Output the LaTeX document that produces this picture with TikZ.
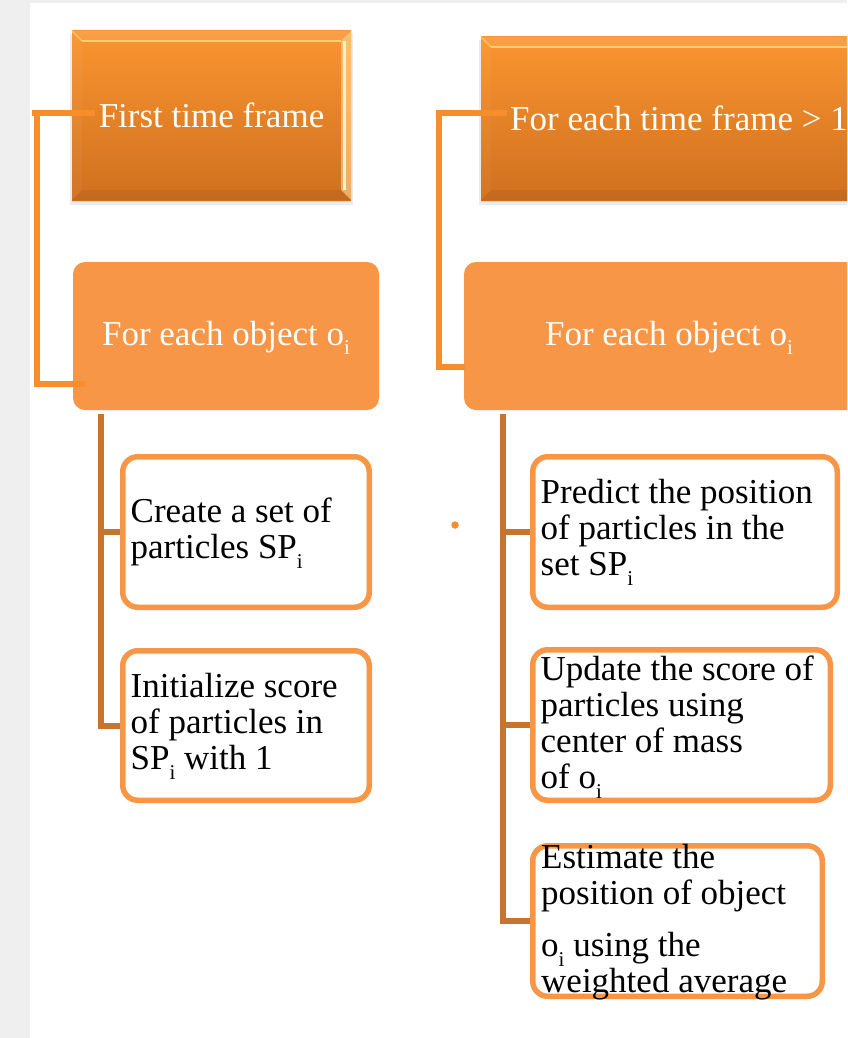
\documentclass[tikz,border=0pt]{standalone}
\usepackage{fontspec}
\setmainfont{Liberation Serif}
\usetikzlibrary{calc,shadows}
\definecolor{bggray}{HTML}{EFEFEF}
\definecolor{acc}{HTML}{F79646}
\definecolor{brk}{HTML}{F68E2B}
\definecolor{brn}{HTML}{C5752F}
\definecolor{topc}{HTML}{FA9530}
\definecolor{botc}{HTML}{D0701F}
\definecolor{bevright}{HTML}{FFE3A0}
\definecolor{hilite}{HTML}{FFD878}
\definecolor{hiliter}{HTML}{FFF2C8}
\newcommand\mysub[1]{\raisebox{-0.28em}{\fontsize{21}{21}\selectfont #1}}
\newcommand\mybevel[1]{%
  \path (#1.north west) coordinate (#1-a) (#1.north east) coordinate (#1-b)
        (#1.south east) coordinate (#1-c) (#1.south west) coordinate (#1-d)
        ([shift={(10,10)}]#1.north west) coordinate (#1-ia)
        ([shift={(-10,10)}]#1.north east) coordinate (#1-ib)
        ([shift={(-10,-10)}]#1.south east) coordinate (#1-ic)
        ([shift={(10,-10)}]#1.south west) coordinate (#1-id);
  \fill[white, opacity=.10] (#1-a) -- (#1-b) -- (#1-ib) -- (#1-ia) -- cycle;
  \fill[white, opacity=.04] (#1-a) -- (#1-ia) -- (#1-id) -- (#1-d) -- cycle;
  \fill[black, opacity=.06] (#1-d) -- (#1-id) -- (#1-ic) -- (#1-c) -- cycle;
  \fill[bevright, opacity=.55] (#1-b) -- (#1-c) -- (#1-ic) -- (#1-ib) -- cycle;
  \draw[hilite, line width=2.5pt, opacity=.9] (#1-ia) -- (#1-ib);
  \draw[hilite, line width=1.5pt, opacity=.6] (#1-a) -- (#1-ia);
  \draw[hiliter, line width=3pt] ([xshift=3.5pt]#1-ib) -- ([xshift=3.5pt]#1-ic);
}
\begin{document}
\begin{tikzpicture}[x=1pt,y=-1pt,
  every node/.style={font=\fontsize{35}{36}\selectfont},
  topbox/.style={rectangle, top color=topc, bottom color=botc, text=white, inner sep=0pt,
     general shadow={fill=black, opacity=.08, shadow yshift=-4pt, shadow scale=1.012},
     general shadow={fill=black, opacity=.10, shadow yshift=-2pt}},
  objbox/.style={rectangle, rounded corners=12pt, fill=acc, text=white, inner sep=0pt,
     text height=24pt, text depth=6pt},
  childbox/.style={rectangle, rounded corners=15pt, draw=acc, line width=5.5pt, fill=white,
     inner sep=0pt},
  childtext/.style={align=left, inner sep=0pt, text=black},
  bracket/.style={draw=brk, line width=6pt},
  branch/.style={draw=brn, line width=6pt},
  dotmark/.style={circle, fill=brk, inner sep=0pt, minimum size=7.5pt}]
\clip (0,0) rectangle (847,1038);
\fill[white] (0,0) rectangle (847,1038);
\fill[bggray] (0,0) rectangle (30,1038);
\fill[bggray] (0,0) rectangle (847,3);

% top level boxes
\node (tf1) [topbox, minimum width=279pt, minimum height=169pt] at (211.5,115.5) {First time frame};
\mybevel{tf1}
\node (tf2) [topbox, minimum width=396pt, minimum height=163pt] at (679,118.5) {For each time frame > 1};
\mybevel{tf2}

% object boxes
\node (ob1) [objbox, minimum width=306pt, minimum height=148pt] at (226,336) {For each object o\mysub{i}};
\node (ob2) [objbox, minimum width=410pt, minimum height=148pt] at (669,336) {For each object o\mysub{i}};

% brackets
\draw[bracket] ($(tf1.west)+(23,-2.5)$) -- ++(-63,0);
\draw[bracket] ($(tf1.west)+(-35,-5.5)$) |- ($(ob1.west)+(12,48)$);
\draw[bracket] ($(tf2.west)+(26,-5)$) -- ++(-67.5,0) |- ($(ob2.west)+(1,31)$);

% child boxes
\node (c1) [childbox, minimum width=246.5pt, minimum height=150.5pt] at (246,532) {};
\node (c2) [childbox, minimum width=246.5pt, minimum height=149.5pt] at (246,725.5) {};
\node (r1) [childbox, minimum width=304.5pt, minimum height=150.5pt] at (685,532) {};
\node (r2) [childbox, minimum width=297.5pt, minimum height=150.5pt] at (681.5,725) {};
\node (r3) [childbox, minimum width=289.5pt, minimum height=150.5pt] at (677.5,921) {};

\node (c1t) [childtext, anchor=west] at ([xshift=10.5pt,yshift=-1pt]c1.west)
  {Create a set of\\particles SP\mysub{i}};
\node (c2t) [childtext, anchor=west] at ([xshift=10.5pt,yshift=-1pt]c2.west)
  {Initialize score\\of particles in\\SP\mysub{i} with 1};
\node (r1t) [childtext, anchor=west] at ([xshift=10.5pt]r1.west)
  {Predict the position\\of particles in the\\set SP\mysub{i}};
\node (r2t) [childtext, anchor=west] at ([xshift=10.5pt,yshift=-2pt]r2.west)
  {Update the score of\\particles using\\center of mass\\of o\mysub{i}};
\node (r3t) [childtext, anchor=north west] at (541,844)
  {Estimate the\\position of object\\[16pt]o\mysub{i} using the\\weighted average};

% branch connectors
\draw[branch] ([xshift=28.5pt,yshift=-4pt]ob1.south west) |- (c1.west);
\draw[branch] ([xshift=28.5pt,yshift=-4pt]ob1.south west) |- (c2.west);
\draw[branch] ([xshift=39pt,yshift=-4pt]ob2.south west) |- (r1.west);
\draw[branch] ([xshift=39pt,yshift=-4pt]ob2.south west) |- (r2.west);
\draw[branch] ([xshift=39pt,yshift=-4pt]ob2.south west) |- (r3.west);

\node (dot) [dotmark] at (455,525) {};
\end{tikzpicture}
\end{document}
